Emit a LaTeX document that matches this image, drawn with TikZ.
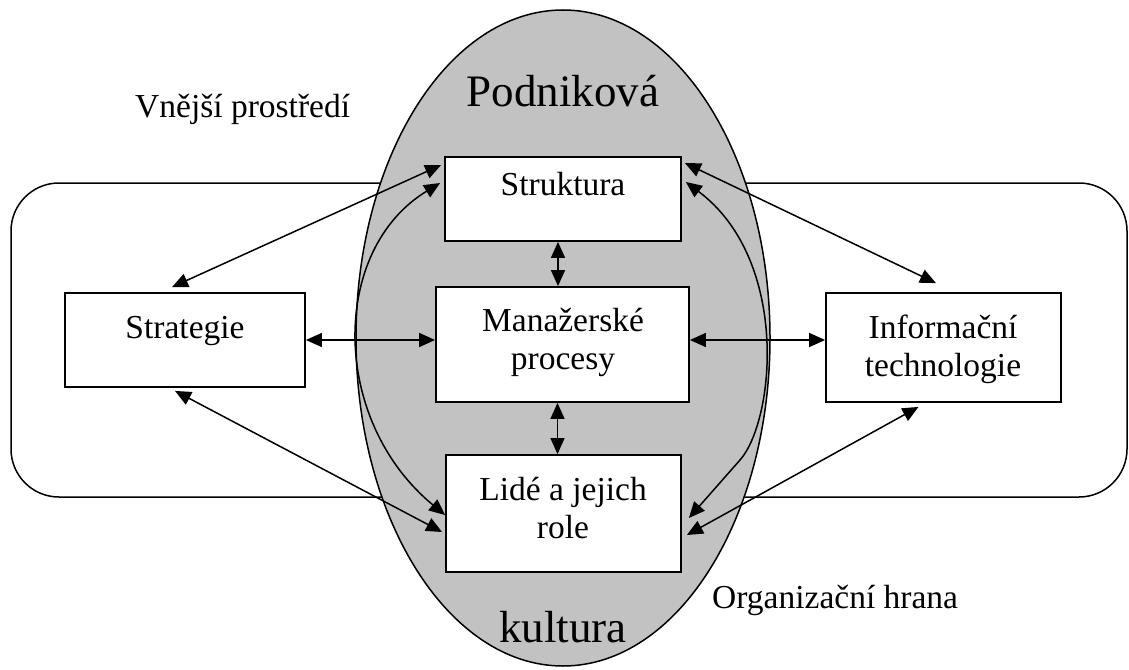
\documentclass[tikz,border=0pt]{standalone}
\usepackage{fontspec}
\setmainfont{Liberation Serif}
\usetikzlibrary{arrows.meta,calc}
\definecolor{culture}{gray}{0.76}
\begin{document}
\begin{tikzpicture}[x=1pt,y=-1pt,
  box/.style={draw=black,line width=1.8pt,fill=white,inner sep=0pt},
  lbl/.style={font=\fontsize{33.5}{38}\selectfont,align=center,inner sep=0pt},
  big/.style={font=\fontsize{45}{50}\selectfont,inner sep=0pt},
  link/.style={line width=1.5pt,{Triangle[length=16pt,width=14pt]}-{Triangle[length=16pt,width=14pt]}},
]
\useasboundingbox (0,0) rectangle (1129,669);

% organisation boundary and the culture ellipse
\draw[line width=1.5pt,rounded corners=48pt] (11,183) rectangle (1127,497);
\draw[line width=1.5pt,fill=culture] (563,338) ellipse [x radius=207, y radius=328];

% boxes
\node[box,minimum width=236,minimum height=84]  (str)  at (563,199)   {};
\node[box,minimum width=253,minimum height=115] (man)  at (562.5,344.5) {};
\node[box,minimum width=235,minimum height=117] (lid)  at (563.5,513.5) {};
\node[box,minimum width=240,minimum height=94]  (stra) at (185,340)   {};
\node[box,minimum width=235,minimum height=109] (inf)  at (943.5,347.5) {};

% box texts
\node[lbl,anchor=base] (strT)  at (563,195) {Struktura};
\node[lbl] (manT)  at (563,342) {Manažerské\\procesy};
\node[lbl,anchor=base] (straT) at (185,338) {Strategie};
\node[lbl] (infT)  at (943,349) {Informační\\technologie};
\node[lbl] (lidT)  at (563,508) {Lidé a jejich\\role};

% free labels
\node[big,anchor=base] (pod) at (563,106) {Podniková};
\node[big,anchor=base] (kul) at (563,642) {kultura};
\node[lbl,anchor=base west] (ext)  at (135,117) {Vnější prostředí};
\node[lbl,anchor=base west] (edge) at (712,608) {Organizační hrana};

% links
\draw[link] ($(stra.north)+(-13,-5)$) -- ($(str.west)+(-3,-34)$);
\draw[link] ($(str.west)+(-4,-16)$) .. controls (330,250) and (330,420) .. ($(lid.west)+(0,1.5)$);
\draw[link] ($(stra.south)+(-10,3)$) -- ($(lid.west)+(-3,18.5)$);
\draw[link] ($(str.east)+(3,-36)$) -- ($(inf.north)+(-7.5,-9)$);
\draw[link] ($(str.east)+(4,-17)$) .. controls (790,260) and (775,420) .. (740,460) -- ($(lid.east)+(7,4.5)$);
\draw[link] ($(lid.east)+(5,21.5)$) -- ($(inf.south)+(-25,4)$);
\draw[link] (stra.east) -- (stra.east -| man.west);
\draw[link] (man.east |- stra.east) -- (inf.west |- stra.east);
\draw[link] ([xshift=-5pt]str.south) -- ([xshift=-5pt]str.south |- man.north);
\draw[link] ([xshift=-5pt]man.south) -- ([xshift=-5pt]man.south |- lid.north);
\end{tikzpicture}
\end{document}
